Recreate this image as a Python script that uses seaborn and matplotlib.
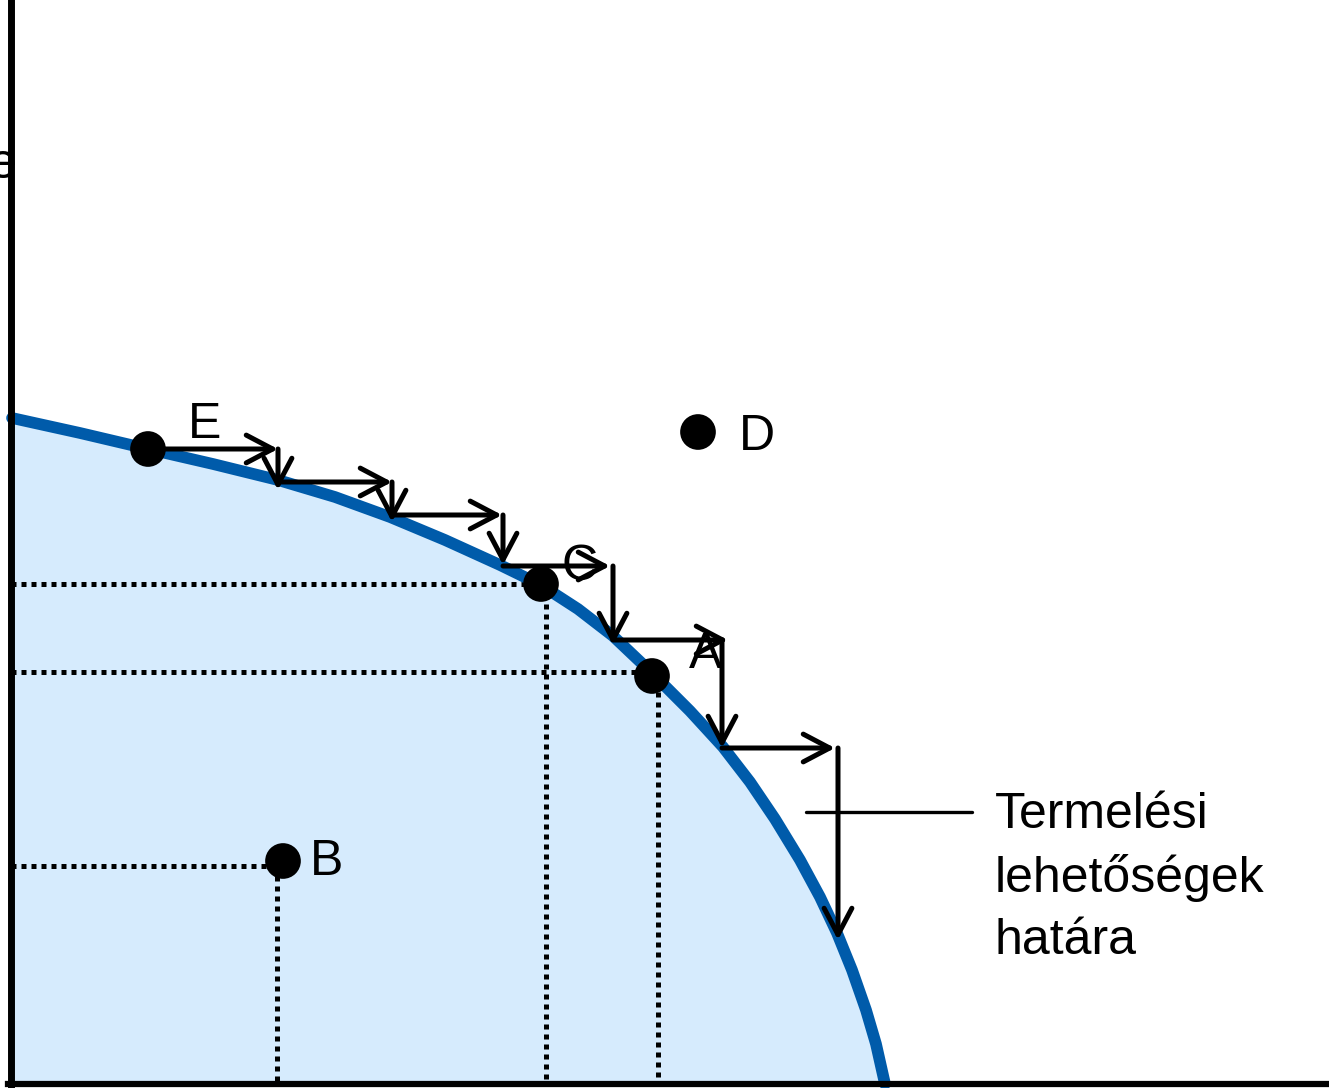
import matplotlib
matplotlib.use("Agg")
import matplotlib.pyplot as plt
import seaborn as sns

# ---- data (x = output of good 1, y = output of good 2) ----
frontier_x = [1, 69, 137, 202, 267, 324, 379, 434, 489, 530, 567, 602, 641, 679,
              712, 739, 764, 789, 809, 826, 841, 855, 865, 874]
frontier_y = [666, 651, 635, 620, 604, 587, 567, 544, 519, 499, 475, 448, 411, 373,
              337, 302, 265, 224, 187, 151, 114, 74, 40, 0]

point_names = ["E", "C", "A", "B", "D"]
point_x = [137, 530, 641, 272, 687]
point_y = [635, 500, 408, 223, 652]

label_x = [194, 569, 695, 316, 746]
label_y = [646, 504, 416, 209, 634]

# dotted projection lines
proj_names = ["C", "A", "B"]
proj_hx_end = [530, 641, 272]
proj_hy = [500, 412, 218]
proj_vx = [535, 647, 266]
proj_vy_top = [500, 412, 218]

# staircase of arrows from E
h_level = [635, 602, 569, 518, 444, 336]
h_start = [137, 267, 381, 492, 602, 711]
h_end = [267, 381, 491, 599, 717, 824]
v_x = [267, 381, 492, 602, 711, 827]
v_end = [594, 562, 519, 439, 336, 144]

callout_x = [795, 961]
callout_y = [272, 272]
callout_lines = ["Termelési", "lehetőségek", "határa"]
callout_text_x = 984
callout_baselines = [256, 192, 130]

# ---- style ----
sns.set_theme(style="white")
plt.rcParams["font.family"] = ["Liberation Sans", "DejaVu Sans"]
plt.rcParams["text.color"] = "black"

fig = plt.figure(figsize=(13.29, 10.88), dpi=100)
ax = fig.add_axes([0, 0, 1, 1])
ax.set_xlim(-11, 1318)
ax.set_ylim(-4, 1084)

blue = "#005BAA"
fill = "#D6EBFD"

ax.fill_between(frontier_x, 0, frontier_y, color=fill, linewidth=0, zorder=1)

for hx, hy, vx, vy in zip(proj_hx_end, proj_hy, proj_vx, proj_vy_top):
    ax.plot([0, hx], [hy, hy], color="black", lw=3.6, linestyle=(0, (1, 1)), zorder=2)
    ax.plot([vx, vx], [vy, 0], color="black", lw=3.6, linestyle=(0, (1, 1)), zorder=2)

sns.lineplot(x=frontier_x, y=frontier_y, sort=False, color=blue, linewidth=8.4,
             ax=ax, zorder=3)
ax.lines[-1].set_solid_joinstyle("round")

arrow_kw = dict(arrowstyle="->,head_length=0.95,head_width=0.5", lw=3.6,
                color="black", shrinkA=0, shrinkB=0, mutation_scale=20)
for i in range(len(h_level)):
    ax.annotate("", xy=(h_end[i], h_level[i]), xytext=(h_start[i], h_level[i]),
                arrowprops=arrow_kw, zorder=4)
    ax.annotate("", xy=(v_x[i], v_end[i]), xytext=(v_x[i], h_level[i]),
                arrowprops=arrow_kw, zorder=4)

ax.plot(callout_x, callout_y, color="black", lw=2.4, zorder=4)
for line, yb in zip(callout_lines, callout_baselines):
    ax.text(callout_text_x, yb, line, fontsize=36, color="black",
            ha="left", va="baseline", zorder=5)

sns.scatterplot(x=point_x, y=point_y, color="black", s=660, edgecolor="none",
                ax=ax, zorder=6)
for name, lx, ly in zip(point_names, label_x, label_y):
    ax.text(lx, ly, name, fontsize=36, color="black", ha="center", va="baseline", zorder=5)

# cut-off axis label fragment at the left edge (as in the original)
ax.text(6, 906, "e", fontsize=36, color="black", ha="right", va="baseline", zorder=1)

# axes
for s in ["top", "right"]:
    ax.spines[s].set_visible(False)
ax.spines["left"].set_position(("data", 0))
ax.spines["bottom"].set_position(("data", 0))
ax.spines["left"].set_linewidth(5)
ax.spines["bottom"].set_linewidth(4.5)
ax.spines["left"].set_color("black")
ax.spines["bottom"].set_color("black")
ax.spines["left"].set_zorder(7)
ax.spines["bottom"].set_zorder(7)
ax.spines["left"].set_bounds(-3, 1084)
ax.spines["bottom"].set_bounds(-3, 1318)
ax.set_xticks([])
ax.set_yticks([])
ax.set_facecolor("white")

fig.savefig("out.png", dpi=100, facecolor="white")
